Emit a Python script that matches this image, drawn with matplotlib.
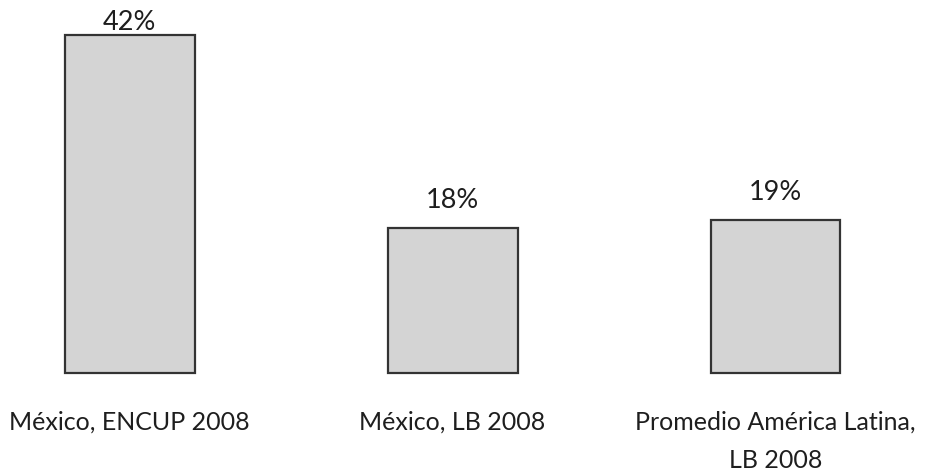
import matplotlib
matplotlib.use("Agg")
import matplotlib.pyplot as plt

categories = ["México, ENCUP 2008", "México, LB 2008", "Promedio América Latina,\nLB 2008"]
values = [42, 18, 19]
value_labels = ["42%", "18%", "19%"]

plt.rcParams['font.family'] = ['Lato', 'DejaVu Sans']

fig = plt.figure(figsize=(9.25, 4.72), dpi=100)
ax = fig.add_axes([0, 0, 1, 1])
ppu_x = 323.0
ax.set_xlim(-129.5 / ppu_x, (925 - 129.5) / ppu_x)
ppu_y = 8.05
ax.set_ylim(-(472 - 373) / ppu_y, 373 / ppu_y)
ax.axis("off")

x = list(range(len(values)))
ax.bar(x, values, width=130 / ppu_x, color="#d4d4d4", edgecolor="#333333", linewidth=1.6)

for xi, v, lab in zip(x, values, value_labels):
    y = min(v + 3.4, 43.6)
    ax.text(xi, y, lab, ha="center", va="center", fontsize=19.5, color="#1e1e1e")

for xi, cat in zip(x, categories):
    ax.text(xi, -4.7, cat, ha="center", va="top", fontsize=18, color="#1e1e1e", linespacing=1.8)

fig.savefig("out.png", dpi=100)
